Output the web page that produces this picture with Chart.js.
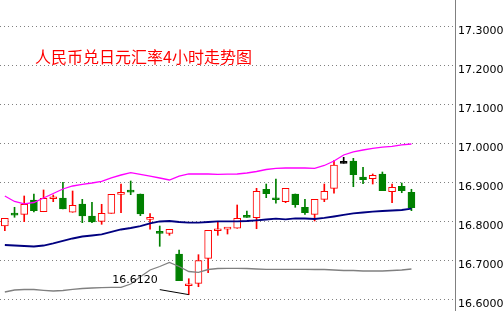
<!DOCTYPE html>
<html>
<head>
<meta charset="utf-8">
<script src="https://cdn.jsdelivr.net/npm/chart.js@4.4.0/dist/chart.umd.min.js"></script>
<style>
  html, body { margin: 0; padding: 0; background: #fff; }
  #wrap { width: 504px; height: 311px; position: relative; }
</style>
</head>
<body>
<div id="wrap"><canvas id="fxChart"></canvas></div>
<script>
// 4-hour CNY/JPY candles
const openPrices = [16.7879, 16.8164, 16.8179, 16.8546, 16.8246, 16.8577, 16.8597, 16.8231, 16.8444, 16.8136,
  16.8000, 16.8205, 16.8690, 16.8753, 16.8700, 16.8049, 16.7694, 16.7692, 16.7162, 16.6347,
  16.6410, 16.7051, 16.7757, 16.7801, 16.7821, 16.8105, 16.8092, 16.8821, 16.8556, 16.8503,
  16.8700, 16.8359, 16.8179, 16.8564, 16.8846, 16.9487, 16.9546, 16.9136, 16.9092, 16.9213,
  16.8759, 16.8897, 16.8744];
const highPrices = [16.8077, 16.8359, 16.8649, 16.8700, 16.8803, 16.8674, 16.9000, 16.8777, 16.8564, 16.8487,
  16.8436, 16.8692, 16.8956, 16.9033, 16.8700, 16.8195, 16.7879, 16.7795, 16.7264, 16.6528,
  16.7144, 16.7769, 16.7990, 16.7805, 16.8418, 16.8264, 16.8846, 16.8956, 16.9085, 16.8846,
  16.8700, 16.8564, 16.8564, 16.8956, 16.9554, 16.9641, 16.9615, 16.9385, 16.9213, 16.9264,
  16.8956, 16.8982, 16.8821];
const lowPrices = [16.7759, 16.8103, 16.7990, 16.8238, 16.8246, 16.8503, 16.8315, 16.8231, 16.7964, 16.7964,
  16.7923, 16.8205, 16.8221, 16.8682, 16.8144, 16.7795, 16.7359, 16.7641, 16.6477, 16.6120,
  16.6323, 16.6682, 16.7641, 16.7674, 16.7821, 16.8101, 16.7810, 16.8605, 16.8462, 16.8477,
  16.8359, 16.8179, 16.8008, 16.8503, 16.8718, 16.9487, 16.8887, 16.8964, 16.8956, 16.8785,
  16.8477, 16.8733, 16.8272];
const closePrices = [16.8077, 16.8160, 16.8436, 16.8272, 16.8590, 16.8581, 16.8315, 16.8410, 16.8136, 16.7982,
  16.8205, 16.8692, 16.8694, 16.8749, 16.8187, 16.8053, 16.7690, 16.7795, 16.6477, 16.6351,
  16.6990, 16.7769, 16.7761, 16.7805, 16.8077, 16.8101, 16.8769, 16.8708, 16.8552, 16.8846,
  16.8426, 16.8221, 16.8564, 16.8769, 16.9444, 16.9487, 16.9195, 16.9067, 16.9179, 16.8785,
  16.8872, 16.8785, 16.8349];

// Bollinger bands
const upperBand = [16.8649, 16.8508, 16.8449, 16.8482, 16.8597, 16.8713, 16.8828, 16.8905, 16.8949, 16.8982,
  16.9021, 16.9115, 16.9187, 16.9246, 16.9205, 16.9156, 16.9110, 16.9059, 16.9156, 16.9213,
  16.9213, 16.9213, 16.9205, 16.9208, 16.9213, 16.9238, 16.9277, 16.9328, 16.9359, 16.9367,
  16.9367, 16.9367, 16.9359, 16.9431, 16.9546, 16.9700, 16.9782, 16.9828, 16.9867, 16.9900,
  16.9923, 16.9962, 16.9982];
const middleBand = [16.7392, 16.7379, 16.7367, 16.7354, 16.7379, 16.7431, 16.7495, 16.7559, 16.7610, 16.7636,
  16.7662, 16.7726, 16.7790, 16.7828, 16.7879, 16.7944, 16.7995, 16.8008, 16.7982, 16.7964,
  16.7964, 16.7982, 16.8000, 16.8000, 16.8000, 16.8008, 16.8026, 16.8046, 16.8067, 16.8051,
  16.8077, 16.8072, 16.8059, 16.8085, 16.8123, 16.8162, 16.8205, 16.8226, 16.8246, 16.8264,
  16.8277, 16.8290, 16.8323];
const lowerBand = [16.6187, 16.6238, 16.6251, 16.6251, 16.6231, 16.6213, 16.6226, 16.6256, 16.6277, 16.6290,
  16.6297, 16.6308, 16.6308, 16.6392, 16.6579, 16.6751, 16.6841, 16.6944, 16.6841, 16.6713,
  16.6692, 16.6764, 16.6790, 16.6795, 16.6795, 16.6790, 16.6777, 16.6769, 16.6769, 16.6769,
  16.6769, 16.6769, 16.6764, 16.6764, 16.6751, 16.6738, 16.6738, 16.6726, 16.6726, 16.6726,
  16.6738, 16.6751, 16.6777];

const yTicks = [16.6, 16.7, 16.8, 16.9, 17.0, 17.1, 17.2, 17.3];
const chartTitle = '人民币兑日元汇率4小时走势图';

// one slot per candle plus the empty space on the right
const periods = openPrices.map((_, i) => 'H' + (i + 1));
const slots = periods.concat(['', '', '', '']);

const UP = '#ff0000';
const DOWN = '#008000';
const FLAT = '#000000';

function candleColour(i) {
    if (closePrices[i] > openPrices[i]) return UP;
    if (closePrices[i] < openPrices[i]) return DOWN;
    return FLAT;
}

const overlayText = {
    id: 'overlayText',
    afterDatasetsDraw(chart) {
        const { ctx, scales: { x, y } } = chart;
        ctx.save();
        // title
        ctx.font = '16px "Noto Sans CJK SC"';
        ctx.fillStyle = '#ff0000';
        ctx.textAlign = 'left';
        ctx.textBaseline = 'middle';
        ctx.fillText(chartTitle, 35, 57);

        // lowest low marker
        const minLow = Math.min(...lowPrices);
        const idx = lowPrices.indexOf(minLow);
        const px = x.getPixelForValue(idx);
        const py = y.getPixelForValue(minLow);
        ctx.strokeStyle = '#000';
        ctx.lineWidth = 1;
        ctx.beginPath();
        ctx.moveTo(px - 29, py - 5);
        ctx.lineTo(px, py);
        ctx.stroke();
        ctx.font = '11px "DejaVu Sans"';
        ctx.fillStyle = '#000';
        ctx.textAlign = 'right';
        ctx.fillText(minLow.toFixed(4), px - 31, py - 14);
        ctx.restore();
    }
};

const bandLine = (data, colour, width) => ({
    type: 'line',
    data: data,
    borderColor: colour,
    borderWidth: width,
    pointRadius: 0,
    tension: 0,
    fill: false,
    order: 0
});

new Chart(document.getElementById('fxChart'), {
    type: 'bar',
    data: {
        labels: slots,
        datasets: [
            {
                // wicks
                data: lowPrices.map((l, i) => [l, highPrices[i]]),
                backgroundColor: ctx => candleColour(ctx.dataIndex),
                borderWidth: 0,
                barThickness: 1,
                grouped: false,
                order: 2
            },
            {
                // bodies
                data: openPrices.map((o, i) => [o, closePrices[i]]),
                backgroundColor: ctx => candleColour(ctx.dataIndex) === UP ? '#ffffff' : candleColour(ctx.dataIndex),
                borderColor: ctx => candleColour(ctx.dataIndex),
                borderWidth: 1,
                borderSkipped: false,
                barThickness: 7,
                minBarLength: 2,
                grouped: false,
                order: 1
            },
            bandLine(upperBand, '#ff00ff', 1.3),
            bandLine(middleBand, '#000080', 1.8),
            bandLine(lowerBand, '#808080', 1.3)
        ]
    },
    options: {
        responsive: true,
        maintainAspectRatio: false,
        animation: false,
        layout: { padding: 0 },
        plugins: {
            legend: { display: false },
            tooltip: { enabled: false },
            title: { display: false }
        },
        scales: {
            x: {
                display: false,
                offset: true
            },
            y: {
                position: 'right',
                min: 16.57,
                max: 17.3674,
                afterBuildTicks: scale => {
                    scale.ticks = yTicks.map(v => ({ value: v }));
                },
                afterFit: scale => {
                    scale.width = 49;
                    scale.paddingTop = 0;
                    scale.paddingBottom = 0;
                },
                grid: { color: '#808080', lineWidth: 1, drawTicks: false },
                border: { color: '#808080', width: 1, dash: [1, 3] },
                ticks: {
                    padding: 3,
                    labelOffset: 4.5,
                    color: '#000',
                    font: { family: 'DejaVu Sans', size: 11 },
                    callback: value => value.toFixed(4)
                }
            }
        }
    },
    plugins: [overlayText]
});
</script>
</body>
</html>
